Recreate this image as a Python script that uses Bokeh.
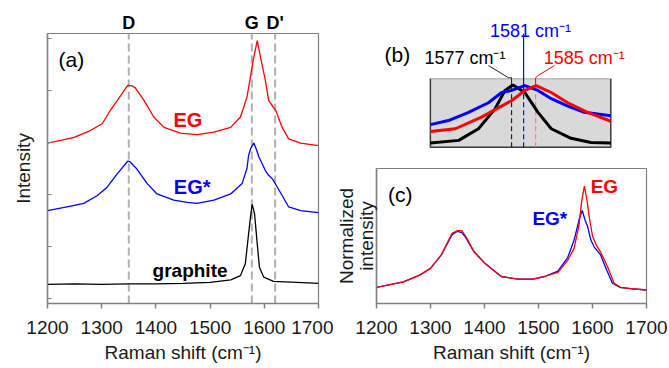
from bokeh.plotting import figure
from bokeh.layouts import row, column
from bokeh.models import Label, LinearAxis, FixedTicker, CustomLabelingPolicy
from bokeh.embed import file_html
from bokeh.resources import INLINE

FONT = "Liberation Sans"
RED = "#ff0000"
BLUE = "#0000ff"
BLACK = "#000000"
AXIS_GREY = "#808080"
TXT = "#1a1a1a"

# ---------------- data: panel (a) stacked spectra (offset intensities) ----------------
eg_shift = [1200, 1225, 1249, 1279, 1301, 1316, 1335, 1348, 1356, 1362, 1378, 1396, 1415, 1445, 1476,
            1507, 1538, 1556, 1568, 1574.5, 1579.5, 1587, 1593, 1602, 1608, 1612, 1621, 1633, 1645, 1667, 1700]
eg_int = [2.99, 3.04, 3.10, 3.23, 3.36, 3.62, 3.90, 4.10, 4.09, 4.05, 3.81, 3.49, 3.29, 3.18, 3.15,
          3.20, 3.29, 3.49, 3.87, 4.26, 4.58, 4.96, 4.64, 4.19, 3.81, 3.75, 3.62, 3.29, 3.07, 2.99, 2.94]

egs_shift = [1200, 1236, 1267, 1292, 1310, 1329, 1348, 1352, 1365, 1384, 1402, 1433, 1458, 1476, 1507,
             1538, 1559, 1568, 1571, 1575, 1580.7, 1586, 1590, 1602, 1608, 1615, 1624, 1633, 1645, 1667, 1700]
egs_int = [1.69, 1.76, 1.83, 1.98, 2.14, 2.40, 2.64, 2.63, 2.49, 2.21, 2.01, 1.89, 1.85, 1.83, 1.89,
           2.01, 2.21, 2.50, 2.75, 2.89, 2.99, 2.85, 2.72, 2.46, 2.37, 2.30, 2.14, 1.98, 1.76, 1.69, 1.65]

gr_shift = [1200, 1250, 1300, 1350, 1400, 1450, 1500, 1538, 1556, 1565, 1571, 1574.5, 1577.6, 1582,
            1587, 1591, 1599, 1617, 1660, 1700]
gr_int = [0.27, 0.28, 0.27, 0.28, 0.28, 0.29, 0.31, 0.36, 0.44, 0.67, 1.24, 1.56, 1.81, 1.63,
          1.05, 0.60, 0.41, 0.33, 0.31, 0.29]

band_pos = [1350, 1577, 1620]
band_names = ["D", "G", "D'"]

# ---------------- data: panel (c) normalized spectra ----------------
c_shift_eg = [1200, 1250, 1280, 1300, 1320, 1340, 1350, 1358, 1365, 1380, 1400, 1431, 1462, 1490, 1511, 1536,
              1554, 1566, 1575, 1580, 1585, 1590, 1594, 1600, 1606, 1615, 1620, 1628, 1640, 1652, 1670, 1700]
c_eg = [0.12, 0.16, 0.21, 0.26, 0.36, 0.52, 0.54, 0.54, 0.50, 0.39, 0.30, 0.20, 0.18, 0.18, 0.20, 0.23,
        0.32, 0.41, 0.58, 0.76, 0.87, 0.76, 0.64, 0.50, 0.44, 0.38, 0.34, 0.27, 0.15, 0.12, 0.11, 0.10]

c_shift_egs = [1200, 1250, 1280, 1300, 1320, 1340, 1350, 1358, 1365, 1380, 1400, 1431, 1462, 1490, 1511,
               1536, 1554, 1566, 1575, 1581, 1586, 1591, 1597, 1603, 1615, 1627, 1637, 1650, 1670, 1700]
c_egs = [0.12, 0.16, 0.21, 0.26, 0.36, 0.51, 0.535, 0.525, 0.49, 0.385, 0.30, 0.20, 0.18, 0.18, 0.20,
         0.24, 0.34, 0.47, 0.62, 0.69, 0.62, 0.57, 0.47, 0.42, 0.36, 0.24, 0.15, 0.12, 0.11, 0.10]

# ---------------- data: panel (b) inset, G band zoom ----------------
b_range = [1550, 1610]
b_shift_egs = [1550, 1556, 1562.7, 1569.3, 1573.7, 1577, 1581.4, 1585.8, 1590.2, 1595.7, 1601.2, 1610]
b_egs = [0.33, 0.39, 0.51, 0.65, 0.80, 0.83, 0.90, 0.83, 0.71, 0.60, 0.51, 0.46]
b_shift_eg = [1550, 1558.3, 1567, 1577, 1581.4, 1585.2, 1590.2, 1595.7, 1602.3, 1610]
b_eg = [0.23, 0.27, 0.44, 0.68, 0.83, 0.90, 0.80, 0.65, 0.51, 0.38]
b_shift_gr = [1550, 1559.4, 1566, 1571.5, 1574.8, 1577.5, 1581.4, 1585.8, 1590.2, 1596.8, 1603.4, 1610]
b_gr = [0.06, 0.10, 0.27, 0.56, 0.83, 0.91, 0.80, 0.51, 0.27, 0.13, 0.07, 0.06]
g_peaks = [1577, 1581, 1585]          # graphite, EG*, EG
g_peak_labels = ["1577 cm\u207b\u00b9", "1581 cm\u207b\u00b9", "1585 cm\u207b\u00b9"]

x_ticks = [1200, 1300, 1400, 1500, 1600, 1700]
a_y_ticks = [0, 1, 2, 3, 4, 5]
X_TITLE = "Raman shift (cm\u207b\u00b9)"

HIDE_LABELS = CustomLabelingPolicy(code="""
for (const i of indices) { indices.unset(i) }
return indices
""")


def style_frame(p):
    p.grid.visible = False
    p.outline_line_color = AXIS_GREY
    p.outline_line_width = 1.2
    p.background_fill_color = "white"
    p.border_fill_color = "white"
    for ax in p.xaxis:
        ax.ticker = x_ticks
        ax.axis_line_color = AXIS_GREY
        ax.axis_line_width = 1.5
        ax.major_tick_line_color = AXIS_GREY
        ax.major_tick_line_width = 1.5
        ax.major_tick_out = 5
        ax.major_tick_in = 0
        ax.minor_tick_line_color = None
        ax.major_label_text_font = FONT
        ax.major_label_text_font_size = "19px"
        ax.major_label_text_color = TXT
        ax.major_label_standoff = 12
        ax.axis_label = X_TITLE
        ax.axis_label_text_font = FONT
        ax.axis_label_text_font_size = "19px"
        ax.axis_label_text_font_style = "normal"
        ax.axis_label_text_color = TXT
        ax.axis_label_standoff = 5


def lab(p, x, y, text, size="19px", color=TXT, bold=False, align="center", baseline="middle"):
    p.add_layout(Label(x=x, y=y, text=text, text_font=FONT, text_font_size=size,
                       text_color=color, text_font_style="bold" if bold else "normal",
                       text_align=align, text_baseline=baseline))


# ---------------- panel (a) ----------------
pa = figure(width=333, height=368, x_range=(1200, 1700), y_range=(-0.096, 5.096),
            toolbar_location=None, output_backend="svg",
            min_border_left=47, min_border_right=15, min_border_top=33, min_border_bottom=65)
style_frame(pa)
pa.yaxis.ticker = a_y_ticks
pa.yaxis.major_tick_in = 4
pa.yaxis.major_tick_out = 0
pa.yaxis.major_tick_line_color = AXIS_GREY
pa.yaxis.major_tick_line_width = 1.2
pa.yaxis.minor_tick_line_color = None
pa.yaxis.major_label_text_font_size = "1px"
pa.yaxis.major_label_standoff = 0
pa.yaxis.major_label_policy = HIDE_LABELS
pa.yaxis.axis_line_color = AXIS_GREY
pa.yaxis.axis_line_width = 1.5
pa.yaxis.axis_label = "Intensity"
pa.yaxis.axis_label_text_font = FONT
pa.yaxis.axis_label_text_font_size = "19px"
pa.yaxis.axis_label_text_font_style = "normal"
pa.yaxis.axis_label_text_color = TXT
pa.yaxis.axis_label_standoff = 10

# band names above the frame
band_axis = LinearAxis(ticker=FixedTicker(ticks=band_pos),
                       major_label_overrides={b: n for b, n in zip(band_pos, band_names)})
band_axis.axis_line_color = None
band_axis.major_tick_line_color = None
band_axis.minor_tick_line_color = None
band_axis.major_tick_out = 0
band_axis.major_tick_in = 0
band_axis.major_label_standoff = 1
band_axis.major_label_text_font = FONT
band_axis.major_label_text_font_size = "18px"
band_axis.major_label_text_font_style = "bold"
band_axis.major_label_text_color = BLACK
pa.add_layout(band_axis, "above")

for xb in band_pos:
    pa.line([xb, xb], [-0.096, 5.096], line_color="#b0b0b0", line_width=2, line_dash="8 4")

pa.line(eg_shift, eg_int, line_color=RED, line_width=1.3)
pa.line(egs_shift, egs_int, line_color=BLUE, line_width=1.3)
pa.line(gr_shift, gr_int, line_color=BLACK, line_width=1.3)

lab(pa, 1244, 4.60, "(a)", size="21px", color=BLACK)
lab(pa, 1459, 3.43, "EG", size="20px", color=RED, bold=True)
lab(pa, 1467, 2.14, "EG*", size="20px", color=BLUE, bold=True)
lab(pa, 1463, 0.54, "graphite", size="19px", color=BLACK, bold=True)

# ---------------- panel (b) inset ----------------
pb = figure(width=336, height=150, x_range=(1532.07, 1621.89), y_range=(-0.048, 2.145),
            x_axis_type=None, y_axis_type=None, toolbar_location=None, output_backend="svg",
            min_border_left=41, min_border_right=23, min_border_top=0, min_border_bottom=0)
pb.outline_line_color = None
pb.grid.visible = False
pb.quad(left=[b_range[0]], right=[b_range[1]], bottom=[0], top=[1],
        fill_color="#d9d9d9", line_color="#a6a6a6", line_width=1)
pb.line([b_range[0], b_range[0], b_range[1], b_range[1]], [1, 0, 0, 1], line_color="#404040", line_width=1.5)

gx, bx, rx = g_peaks
pb.line([gx, gx], [0, 0.91], line_color="#222222", line_width=1.2, line_dash="5 3")
pb.line([gx - 7.7, gx - 1, gx, gx], [1.194, 1.015, 1.015, 0.91], line_color="#222222", line_width=1)
pb.line([bx, bx], [0, 0.9], line_color=BLUE, line_width=1.2, line_dash="5 3")
pb.line([bx, bx], [0.9, 1.66], line_color=BLUE, line_width=1.2)
pb.line([rx, rx], [0, 0.9], line_color="#ff8080", line_width=1.2, line_dash="5 3")
pb.line([rx + 6.3, rx + 0.8, rx, rx], [1.194, 1.048, 1.015, 0.9], line_color=RED, line_width=1)

pb.line(b_shift_gr, b_gr, line_color=BLACK, line_width=3)
pb.line(b_shift_egs, b_egs, line_color=BLUE, line_width=3)
pb.line(b_shift_eg, b_eg, line_color=RED, line_width=3)

lab(pb, 1539, 1.36, "(b)", size="21px", color=BLACK)
lab(pb, 1561.5, 1.307, g_peak_labels[0], size="18px", color=BLACK, baseline="alphabetic")
lab(pb, 1583.3, 1.696, g_peak_labels[1], size="18px", color=BLUE, baseline="alphabetic")
lab(pb, 1601.2, 1.307, g_peak_labels[2], size="18px", color=RED, baseline="alphabetic")

# ---------------- panel (c) ----------------
pc = figure(width=336, height=218, x_range=(1200, 1700), y_range=(0, 1),
            toolbar_location=None, output_backend="svg",
            min_border_left=41, min_border_right=23, min_border_top=18, min_border_bottom=65)
style_frame(pc)
pc.yaxis.ticker = []
pc.yaxis.major_tick_in = 0
pc.yaxis.major_tick_out = 0
pc.yaxis.minor_tick_line_color = None
pc.yaxis.major_label_standoff = 0
pc.yaxis.axis_line_color = AXIS_GREY
pc.yaxis.axis_line_width = 1.5
pc.yaxis.axis_label = "Normalized\nintensity"
pc.yaxis.axis_label_text_font = FONT
pc.yaxis.axis_label_text_font_size = "19px"
pc.yaxis.axis_label_text_font_style = "normal"
pc.yaxis.axis_label_text_color = TXT
pc.yaxis.axis_label_text_line_height = 0.92
pc.yaxis.axis_label_standoff = 0

pc.line(c_shift_egs, c_egs, line_color=BLUE, line_width=1.3)
pc.line(c_shift_eg, c_eg, line_color=RED, line_width=1.3)

lab(pc, 1244, 0.807, "(c)", size="21px", color=BLACK)
lab(pc, 1622, 0.863, "EG", size="19px", color=RED, bold=True)
lab(pc, 1521, 0.626, "EG*", size="19px", color=BLUE, bold=True)

layout = row(pa, column(pb, pc, spacing=0), spacing=0)
open("out.html", "w").write(file_html(layout, INLINE))
